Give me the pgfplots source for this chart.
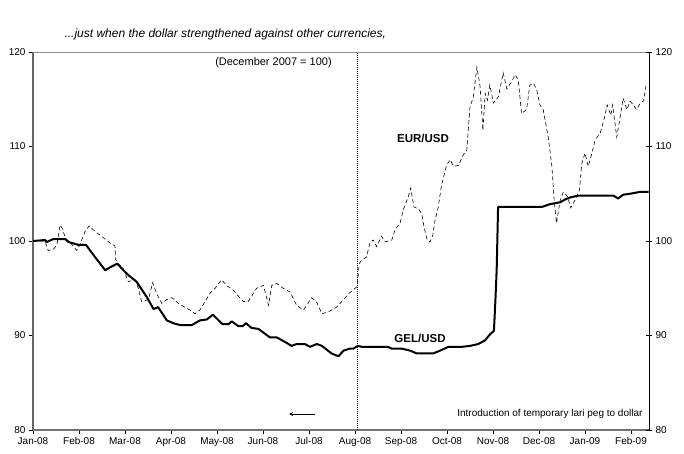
\documentclass[border=0pt]{standalone}
\usepackage{pgfplots}
\pgfplotsset{compat=1.18}
\usepackage{fontspec}
\setmainfont{Liberation Sans}
\begin{document}
\begin{tikzpicture}
\pgfplotsset{
  common/.style={
    at={(0pt,0pt)}, anchor=south west,
    scale only axis, width=616pt, height=378pt,
    xmin=0, xmax=13.391, ymin=80, ymax=120,
    ytick={80,90,100,110,120},
    /pgf/number format/assume math mode=true,
    tick label style={font=\fontsize{10}{12}\selectfont},
    major tick length=4pt,
    tick style={black, line width=0.6pt},
  }
}
\begin{axis}[common,
  axis x line*=bottom, axis y line*=left,
  x axis line style={-, draw=black!55, line width=1.3pt},
  y axis line style={-, draw=black!60, line width=1.6pt},
  tick align=outside,
  xtick={0,1,2,3,4,5,6,7,8,9,10,11,12,13},
  xticklabels={Jan-08,Feb-08,Mar-08,Apr-08,May-08,Jun-08,Jul-08,Aug-08,Sep-08,Oct-08,Nov-08,Dec-08,Jan-09,Feb-09},
  clip=false,
]
\draw[black!45, line width=0.6pt] (rel axis cs:0,1) -- (rel axis cs:1,1);
% vertical dotted line: introduction of peg
\addplot[black, line width=0.6pt, dash pattern=on 1pt off 1pt] coordinates {(7.06,80) (7.06,120)};
% GEL/USD
\addplot[black, line width=2pt, line join=round] coordinates {
(0.00,100.0) (0.26,100.1) (0.30,99.9) (0.44,100.2) (0.70,100.2) (0.77,99.9)
(0.98,99.6) (1.15,99.6) (1.35,98.3) (1.57,96.9) (1.67,97.2) (1.83,97.6)
(1.93,97.1) (2.07,96.4) (2.25,95.7) (2.47,94.1) (2.62,92.8) (2.72,93.0)
(2.91,91.6) (3.05,91.3) (3.20,91.1) (3.45,91.1) (3.63,91.6) (3.78,91.7)
(3.91,92.2) (4.12,91.2) (4.25,91.2) (4.32,91.5) (4.46,91.0) (4.56,91.0)
(4.63,91.3) (4.75,90.8) (4.90,90.7) (5.04,90.2) (5.15,89.8) (5.30,89.8)
(5.52,89.2) (5.62,88.9) (5.73,89.1) (5.91,89.1) (6.02,88.8) (6.17,89.1)
(6.28,88.9) (6.49,88.1) (6.64,87.8) (6.75,88.4) (6.88,88.6) (6.96,88.6)
(7.06,88.9) (7.15,88.8) (7.72,88.8) (7.80,88.6) (8.02,88.6) (8.20,88.4)
(8.34,88.1) (8.70,88.1) (8.85,88.4) (9.03,88.8) (9.32,88.8) (9.50,88.9)
(9.68,89.1) (9.83,89.5) (9.93,90.1) (10.02,90.5) (10.05,93.5) (10.08,97.0)
(10.11,103.6) (11.06,103.6) (11.24,103.9) (11.46,104.1) (11.57,104.4)
(11.67,104.6) (11.85,104.8) (12.62,104.8) (12.72,104.5) (12.83,104.9)
(12.98,105.0) (13.20,105.2) (13.38,105.2)
};
% EUR/USD
\addplot[black, line width=0.6pt, dash pattern=on 4pt off 2.8pt] coordinates {
(0.00,100.0) (0.26,100.0) (0.33,99.0) (0.44,99.1) (0.52,99.6) (0.59,101.7)
(0.65,101.2) (0.70,100.3) (0.80,99.9) (0.95,99.0) (1.02,99.6) (1.13,101.0)
(1.22,101.6) (1.35,101.0) (1.49,100.5) (1.67,99.8) (1.78,99.5) (1.80,98.0)
(1.85,97.6) (1.96,97.1) (2.07,95.7) (2.22,95.9) (2.29,95.0) (2.36,93.6)
(2.51,93.8) (2.60,95.6) (2.69,94.4) (2.80,93.4) (2.91,93.8) (3.02,94.0)
(3.16,93.4) (3.30,93.0) (3.41,92.7) (3.52,92.3) (3.63,92.7) (3.74,93.6)
(3.85,94.5) (3.96,95.0) (4.10,95.9) (4.21,95.3) (4.35,94.8) (4.57,93.6)
(4.68,93.6) (4.86,95.0) (5.01,95.3) (5.12,93.2) (5.19,95.3) (5.30,95.5)
(5.44,95.0) (5.59,94.6) (5.73,93.2) (5.88,92.7) (6.06,94.0) (6.17,93.5)
(6.28,92.3) (6.42,92.5) (6.60,93.0) (6.75,93.8) (6.88,94.5) (7.05,95.2)
(7.09,97.6) (7.15,98.0) (7.25,98.3) (7.33,99.9) (7.40,100.1) (7.47,99.4)
(7.58,100.5) (7.65,99.9) (7.80,100.1) (7.87,101.2) (7.98,101.9) (8.05,103.3)
(8.16,104.7) (8.21,105.6) (8.28,103.6) (8.38,103.4) (8.45,102.9) (8.50,101.5)
(8.57,100.1) (8.63,99.9) (8.69,100.6) (8.74,102.2) (8.81,103.6) (8.88,105.9)
(8.99,108.0) (9.07,108.6) (9.14,107.9) (9.25,108.0) (9.35,109.1) (9.43,109.6)
(9.50,114.2) (9.57,115.2) (9.65,118.4) (9.72,116.3) (9.78,111.7) (9.83,115.6)
(9.88,114.9) (9.93,116.5) (10.01,114.6) (10.12,115.3) (10.22,117.8) (10.30,116.1)
(10.41,116.9) (10.48,117.6) (10.55,117.0) (10.62,113.5) (10.73,113.9) (10.80,116.5)
(10.88,116.7) (10.95,116.0) (11.02,114.4) (11.09,113.9) (11.20,111.0) (11.28,107.9)
(11.33,104.3) (11.38,101.9) (11.46,104.3) (11.53,105.2) (11.62,104.7) (11.69,103.5)
(11.78,104.3) (11.88,105.4) (11.93,108.2) (12.00,109.3) (12.07,107.9) (12.15,109.3)
(12.22,110.7) (12.33,111.4) (12.43,113.2) (12.48,114.4) (12.56,113.3) (12.60,114.4)
(12.69,111.0) (12.76,113.0) (12.83,115.1) (12.91,113.9) (12.98,114.8) (13.05,114.4)
(13.12,113.9) (13.20,114.6) (13.27,114.8) (13.33,116.5)
};
\end{axis}
\begin{axis}[common,
  axis x line=none, axis y line*=right,
  y axis line style={-, draw=black, line width=0.9pt},
  tick align=center, major tick length=6pt,
  yticklabel pos=right,
]
\end{axis}
% annotations (pt = px of reference, origin at the axis's lower left)
\node[anchor=west, font=\fontsize{12}{14}\selectfont\itshape] at (28pt,396pt)
  {...just when the dollar strengthened against other currencies,};
\node[font=\fontsize{11}{13}\selectfont] at (240.5pt,367pt) {(December 2007 = 100)};
\node[font=\fontsize{11.5}{13}\selectfont\bfseries] at (390pt,292pt) {EUR/USD};
\node[font=\fontsize{11.5}{13}\selectfont\bfseries] at (387pt,92pt) {GEL/USD};
\node[anchor=east, font=\fontsize{10}{12}\selectfont] at (613pt,16pt)
  {Introduction of temporary lari peg to dollar};
\draw[-stealth, black, line width=0.8pt] (282pt,16pt) -- (256pt,16pt);
\pgfresetboundingbox
\path (-33pt,-23pt) rectangle (651pt,430pt);
\end{tikzpicture}
\end{document}
